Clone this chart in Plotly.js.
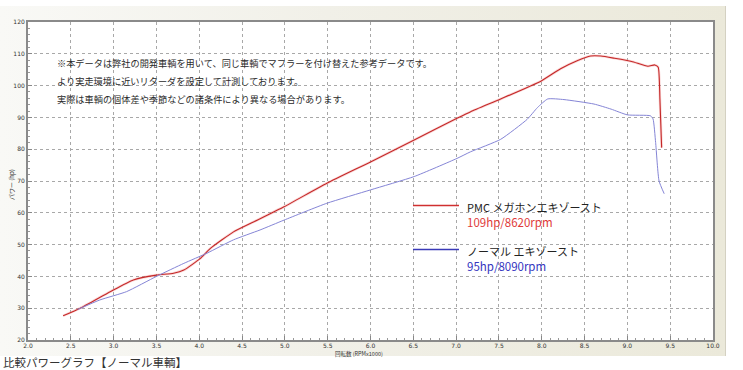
<!DOCTYPE html>
<html>
<head>
<meta charset="utf-8">
<script src="https://cdn.plot.ly/plotly-3.0.1.min.js"></script>
<style>
  html, body { margin:0; padding:0; background:#ffffff; width:743px; height:370px; overflow:hidden; }
  #panel { position:absolute; left:0; top:0; width:725px; height:356px;
           background:linear-gradient(to right, #f9f9f6 0%, #f1f0e8 45%, #ebe9da 100%);
           border-right:1px solid #d4d1c2; }
  #topband { position:absolute; left:0; top:0; width:743px; height:6px; background:#ffffff; }
  #chart { position:absolute; left:0; top:0; width:743px; height:370px; }
</style>
</head>
<body>
<div id="panel"></div>
<div id="topband"></div>
<div id="chart"></div>
<script>
// PMC megaphone exhaust (red)
const pmcRpm = [2.41, 2.61, 2.96, 3.23, 3.50, 3.70, 3.82, 4.01, 4.13, 4.40, 4.64, 4.99, 5.49, 6.00, 6.51, 7.01, 7.17, 7.52, 7.99, 8.22, 8.42, 8.57, 8.69, 8.85, 9.05, 9.24, 9.32, 9.36, 9.38, 9.40];
const pmcHp  = [27.6, 30.0, 35.2, 38.9, 40.4, 41.0, 42.0, 45.6, 48.8, 54.0, 57.2, 61.9, 69.3, 76.0, 82.9, 89.7, 91.8, 95.8, 101.4, 105.3, 107.9, 109.3, 109.3, 108.6, 107.6, 106.1, 106.5, 105.8, 95.8, 80.5];
// Normal exhaust (blue)
const stdRpm = [2.58, 2.84, 3.15, 3.50, 3.82, 4.09, 4.40, 4.71, 4.99, 5.49, 6.00, 6.51, 7.01, 7.17, 7.52, 7.83, 7.95, 8.07, 8.26, 8.61, 8.81, 9.00, 9.27, 9.30, 9.33, 9.37, 9.43];
const stdHp  = [29.6, 32.6, 35.2, 40.0, 44.1, 47.3, 51.5, 54.6, 57.7, 63.0, 67.2, 71.4, 77.1, 79.2, 83.1, 89.4, 93.1, 95.8, 95.6, 94.2, 92.6, 90.8, 90.5, 89.5, 82.1, 70.0, 66.0];

const noteLines = [
  "※本データは弊社の開発車輌を用いて、同じ車輌でマフラーを付け替えた参考データです。",
  "より実走環境に近いリターダを設定して計測しております。",
  "実際は車輌の個体差や季節などの諸条件により異なる場合があります。"
];
const legendNames = ["PMC メガホンエキゾースト", "ノーマル エキゾースト"];
const legendPeaks = ["109hp/8620rpm", "95hp/8090rpm"];
const xTitle = "回転数 (RPMx1000)";
const yTitle = "パワー (hp)";
const caption = "比較パワーグラフ【ノーマル車輌】";

const W = 743, H = 370, L = 28, R = 30, T = 22, B = 30;
const pw = W - L - R, ph = H - T - B;
const px = v => (v - L) / pw;          // pixel -> paper x
const py = v => (H - B - v) / ph;      // pixel -> paper y

const cjk = '"Noto Sans CJK JP", "Noto Sans", sans-serif';

const traces = [
  { x: pmcRpm, y: pmcHp, mode: 'lines', line: { color: 'rgba(240,140,140,0.35)', width: 2.6, shape: 'spline', smoothing: 0.5 }, hoverinfo: 'skip' },
  { x: pmcRpm, y: pmcHp, mode: 'lines', name: legendNames[0], line: { color: '#c42828', width: 1.1, shape: 'spline', smoothing: 0.5 } },
  { x: stdRpm, y: stdHp, mode: 'lines', name: legendNames[1], line: { color: '#8585d6', width: 1.0, shape: 'spline', smoothing: 0.5 } }
];

const annotations = [];
noteLines.forEach((t, i) => {
  annotations.push({ xref: 'paper', yref: 'paper', x: px(55), y: py(63 + i * 18), xanchor: 'left', yanchor: 'middle',
    text: t, showarrow: false, font: { family: cjk, size: 9.2, color: '#2a2a2a' } });
});
annotations.push({ xref: 'paper', yref: 'paper', x: px(465), y: py(206.5), xanchor: 'left', yanchor: 'middle',
  text: legendNames[0], showarrow: false, font: { family: cjk, size: 11, color: '#222222' } });
annotations.push({ xref: 'paper', yref: 'paper', x: px(465), y: py(222), xanchor: 'left', yanchor: 'middle',
  text: legendPeaks[0], showarrow: false, font: { family: cjk, size: 11.5, color: '#e03a3a' } });
annotations.push({ xref: 'paper', yref: 'paper', x: px(465), y: py(250.5), xanchor: 'left', yanchor: 'middle',
  text: legendNames[1], showarrow: false, font: { family: cjk, size: 11, color: '#222222' } });
annotations.push({ xref: 'paper', yref: 'paper', x: px(465), y: py(266), xanchor: 'left', yanchor: 'middle',
  text: legendPeaks[1], showarrow: false, font: { family: cjk, size: 11.5, color: '#3535c0' } });
annotations.push({ xref: 'paper', yref: 'paper', x: px(359), y: py(354), xanchor: 'center', yanchor: 'middle',
  text: xTitle, showarrow: false, font: { family: cjk, size: 5.5, color: '#333333' } });
annotations.push({ xref: 'paper', yref: 'paper', x: px(11), y: py(185), xanchor: 'center', yanchor: 'middle',
  text: yTitle, showarrow: false, textangle: -90, font: { family: cjk, size: 6, color: '#333333' } });
annotations.push({ xref: 'paper', yref: 'paper', x: px(1), y: py(352), xanchor: 'left', yanchor: 'top',
  text: caption, showarrow: false, font: { family: cjk, size: 11.5, color: '#333333' } });

const shapes = [
  { type: 'line', xref: 'paper', yref: 'paper', x0: px(413), x1: px(459), y0: py(205.5), y1: py(205.5), line: { color: '#d03030', width: 1.6 } },
  { type: 'line', xref: 'paper', yref: 'paper', x0: px(413), x1: px(459), y0: py(249.5), y1: py(249.5), line: { color: '#3a3ab8', width: 1.6 } }
];

const layout = {
  width: W, height: H,
  margin: { l: L, r: R, t: T, b: B, pad: 0 },
  paper_bgcolor: 'rgba(0,0,0,0)',
  plot_bgcolor: '#ffffff',
  showlegend: false,
  xaxis: {
    range: [2, 10], dtick: 0.5, tick0: 2, tickformat: '.1f',
    showgrid: true, gridcolor: '#a8a8a8', griddash: 'dot', gridwidth: 1,
    zeroline: false, showline: true, linecolor: '#8a8a8a', linewidth: 2, mirror: true,
    ticks: 'inside', ticklen: 4, tickcolor: '#888888',
    minor: { dtick: 0.1, ticks: 'inside', ticklen: 2, tickcolor: '#999999', showgrid: false },
    tickfont: { family: 'DejaVu Sans', size: 6, color: '#333333' }, ticklabelstandoff: -1
  },
  yaxis: {
    range: [20, 120], dtick: 10, tick0: 20,
    showgrid: true, gridcolor: '#a8a8a8', griddash: 'dot', gridwidth: 1,
    zeroline: false, showline: true, linecolor: '#8a8a8a', linewidth: 2, mirror: true,
    ticks: 'inside', ticklen: 4, tickcolor: '#888888',
    minor: { dtick: 2, ticks: 'inside', ticklen: 2, tickcolor: '#999999', showgrid: false },
    tickfont: { family: 'DejaVu Sans', size: 6, color: '#333333' }
  },
  annotations: annotations,
  shapes: shapes
};

Plotly.newPlot('chart', traces, layout, { displayModeBar: false, staticPlot: true });
</script>
</body>
</html>
